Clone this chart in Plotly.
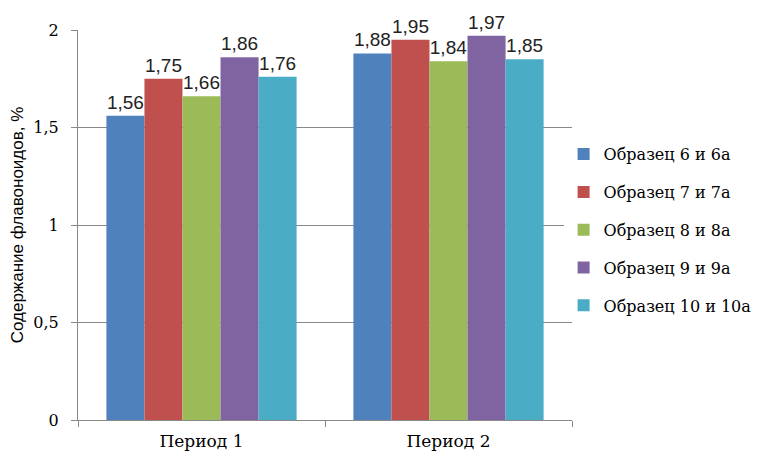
import plotly.graph_objects as go

categories = ["Период 1", "Период 2"]
series_names = ["Образец 6 и 6а", "Образец 7 и 7а", "Образец 8 и 8а", "Образец 9 и 9а", "Образец 10 и 10а"]
s6 = [1.56, 1.88]
s7 = [1.75, 1.95]
s8 = [1.66, 1.84]
s9 = [1.86, 1.97]
s10 = [1.76, 1.85]
colors = ["#4F81BD", "#C0504D", "#9BBB59", "#8064A2", "#4BACC6"]
y_title = "Содержание флавоноидов, %"

SERIF = "DejaVu Serif"
SANS = "Liberation Sans"

fig = go.Figure()
for i, (name, vals) in enumerate(zip(series_names, [s6, s7, s8, s9, s10])):
    fig.add_trace(go.Bar(
        x=categories, y=vals, name=name,
        marker=dict(color=colors[i], line=dict(width=0)),
        text=[f"{v:.2f}".replace(".", ",") for v in vals],
        textposition="outside",
        textfont=dict(family=SANS, size=19, color="#222222"),
        constraintext="none",
        cliponaxis=False,
        legendgroup=f"g{i}",
    ))

fig.update_layout(
    width=765, height=457,
    margin=dict(l=70, r=201, t=22, b=45, autoexpand=False),
    plot_bgcolor="white", paper_bgcolor="white",
    barmode="group", bargap=0.23, bargroupgap=0,
    separators=", ",
    font=dict(family=SERIF, size=16, color="#000000"),
    legend=dict(
        x=0.983, y=0.488, xanchor="left", yanchor="middle",
        font=dict(family=SERIF, size=16, color="#000000"),
        traceorder="grouped", tracegroupgap=14,
    ),
    xaxis=dict(
        showline=True, linecolor="#888888", linewidth=1,
        ticks="outside", tickson="boundaries", ticklen=6, tickcolor="#888888",
        showgrid=False, automargin=False,
        tickfont=dict(family=SERIF, size=17),
        ticklabelstandoff=6,
    ),
    yaxis=dict(
        range=[0, 2], dtick=0.5, tick0=0,
        showline=True, linecolor="#888888", linewidth=1,
        ticks="outside", ticklen=6, tickcolor="#888888",
        showgrid=True, gridcolor="#888888", gridwidth=1,
        zeroline=False, automargin=False,
        tickfont=dict(family=SERIF, size=16),
        ticklabelstandoff=9,
        title=dict(text=y_title, font=dict(family=SANS, size=17), standoff=10),
    ),
)

fig.write_html("out.html")
